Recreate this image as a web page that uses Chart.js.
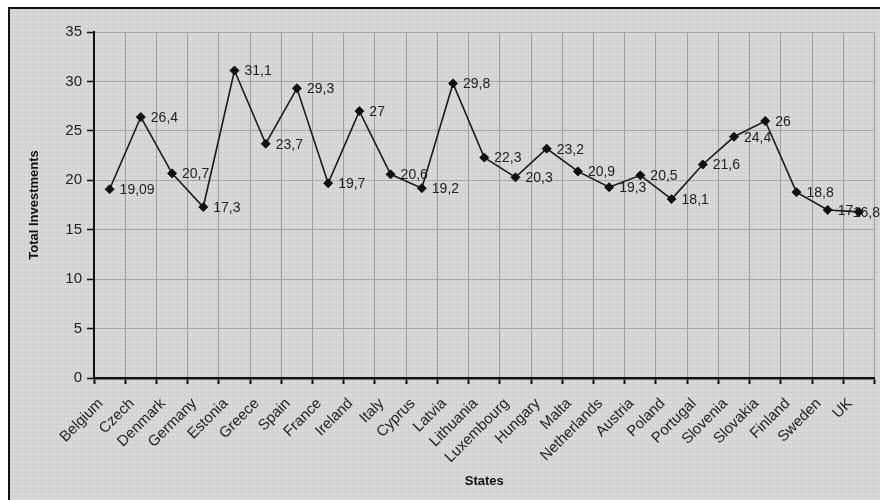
<!DOCTYPE html>
<html>
<head>
<meta charset="utf-8">
<script src="https://cdn.jsdelivr.net/npm/chart.js@4/dist/chart.umd.min.js"></script>
<style>
  html, body { margin: 0; padding: 0; background: #ffffff; }
  #wrap { width: 880px; height: 500px; }
</style>
</head>
<body>
<div id="wrap"><canvas id="c" width="880" height="500"></canvas></div>
<script>
// Member states and their total investment figures
const states = ['Belgium', 'Czech', 'Denmark', 'Germany', 'Estonia', 'Greece', 'Spain', 'France',
  'Ireland', 'Italy', 'Cyprus', 'Latvia', 'Lithuania', 'Luxembourg', 'Hungary', 'Malta',
  'Netherlands', 'Austria', 'Poland', 'Portugal', 'Slovenia', 'Slovakia', 'Finland', 'Sweden', 'UK'];
const totalInvestments = [19.09, 26.4, 20.7, 17.3, 31.1, 23.7, 29.3, 19.7,
  27, 20.6, 19.2, 29.8, 22.3, 20.3, 23.2, 20.9,
  19.3, 20.5, 18.1, 21.6, 24.4, 26, 18.8, 17, 16.8];
const yTicks = [0, 5, 10, 15, 20, 25, 30, 35];

const FONT = '"Liberation Sans", Arial, sans-serif';

// Light grey textured panel with a dark frame
function makePattern(ctx) {
  const t = document.createElement('canvas');
  t.width = 4; t.height = 4;
  const g = t.getContext('2d');
  g.fillStyle = '#d9d9d9';
  g.fillRect(0, 0, 4, 4);
  g.fillStyle = '#d1d1d1';
  g.fillRect(0, 0, 4, 1);
  g.fillRect(0, 0, 1, 4);
  return ctx.createPattern(t, 'repeat');
}

const panel = {
  id: 'panel',
  beforeDraw(chart) {
    const ctx = chart.ctx;
    ctx.save();
    ctx.fillStyle = '#ffffff';
    ctx.fillRect(0, 0, chart.width, chart.height);
    ctx.fillStyle = makePattern(ctx);
    ctx.fillRect(10, 9, chart.width - 10, chart.height - 9);
    ctx.strokeStyle = '#111111';
    ctx.lineWidth = 2;
    ctx.beginPath();
    ctx.moveTo(9, chart.height + 2);
    ctx.lineTo(9, 8);
    ctx.lineTo(chart.width + 2, 8);
    ctx.stroke();
    ctx.restore();
  }
};

// Value labels to the right of each point, decimal comma
const valueLabels = {
  id: 'valueLabels',
  beforeDatasetsDraw(chart) {
    const ctx = chart.ctx;
    const meta = chart.getDatasetMeta(0);
    const data = chart.data.datasets[0].data;
    ctx.save();
    ctx.font = '14px ' + FONT;
    ctx.fillStyle = '#222222';
    ctx.textAlign = 'left';
    ctx.textBaseline = 'middle';
    meta.data.forEach((pt, i) => {
      const txt = String(data[i]).replace('.', ',');
      const w = ctx.measureText(txt).width;
      const x = Math.min(pt.x + 10, chart.width - w);
      ctx.fillText(txt, x, pt.y + 1);
    });
    ctx.restore();
  }
};

new Chart(document.getElementById('c'), {
  type: 'line',
  data: {
    labels: states,
    datasets: [{
      data: totalInvestments,
      borderColor: '#1a1a1a',
      borderWidth: 1.6,
      pointStyle: 'rectRot',
      pointRadius: 4.5,
      pointBackgroundColor: '#111111',
      pointBorderColor: '#111111',
      pointBorderWidth: 1,
      tension: 0,
      fill: false
    }]
  },
  options: {
    responsive: false,
    animation: false,
    devicePixelRatio: 1,
    layout: { padding: { left: 10, right: 2, top: 32, bottom: 4 } },
    plugins: {
      legend: { display: false },
      tooltip: { enabled: false }
    },
    scales: {
      x: {
        type: 'category',
        offset: true,
        grid: {
          display: true,
          offset: true,
          color: '#9c9c9c',
          lineWidth: 1,
          drawTicks: true,
          tickLength: 6,
          tickColor: '#111111',
          tickWidth: 2
        },
        border: { display: true, color: '#111111', width: 2.5 },
        ticks: {
          autoSkip: false,
          maxRotation: 45,
          minRotation: 45,
          padding: 2,
          color: '#222222',
          font: { family: FONT, size: 15 },
          // trailing gap keeps each name clear of its tick mark
          callback(value) { return this.getLabelForValue(value) + '   '; }
        },
        title: {
          display: true,
          text: 'States',
          color: '#111111',
          font: { family: FONT, size: 13, weight: 'bold' },
          padding: { top: 0, bottom: 7 }
        },
        afterFit(scale) { scale.height = 118; }
      },
      y: {
        min: 0,
        max: 35,
        afterBuildTicks(scale) { scale.ticks = yTicks.map(v => ({ value: v })); },
        grid: {
          color: '#a6a6a6',
          lineWidth: 1,
          drawTicks: true,
          tickLength: 7,
          tickColor: '#111111',
          tickWidth: 1.5
        },
        border: { display: true, color: '#111111', width: 2 },
        ticks: {
          padding: 5,
          color: '#222222',
          font: { family: FONT, size: 15 }
        },
        title: {
          display: true,
          text: 'Total Investments',
          color: '#111111',
          font: { family: FONT, size: 13, weight: 'bold' },
          padding: { top: 17, bottom: 0 }
        },
        afterFit(scale) { scale.width = 84; }
      }
    }
  },
  plugins: [panel, valueLabels]
});
</script>
</body>
</html>
